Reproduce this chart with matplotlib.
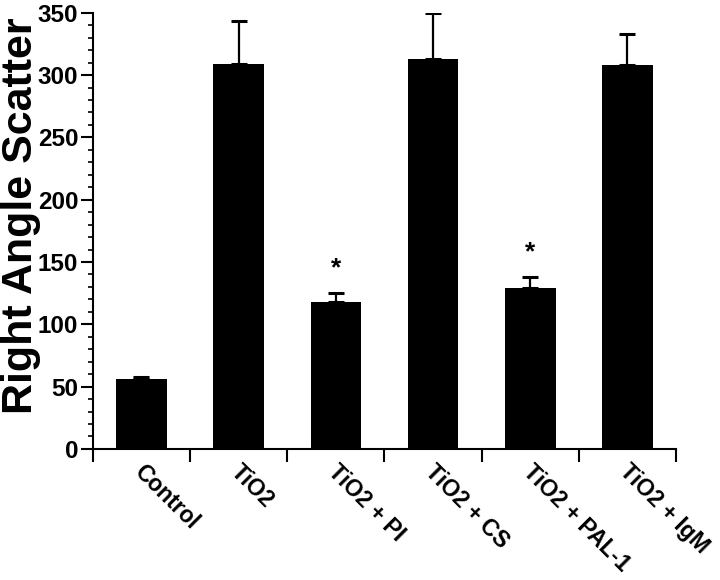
import matplotlib
matplotlib.use("Agg")
import matplotlib.pyplot as plt
from matplotlib.ticker import MultipleLocator
from matplotlib.transforms import ScaledTranslation

categories = ["Control", "TiO2", "TiO2 + PI", "TiO2 + CS", "TiO2 + PAL-1", "TiO2 + IgM"]
means = [56, 309, 118, 313, 129, 308]
errors = [2, 34, 7, 37, 9, 25]
significant = [False, False, True, False, True, False]

plt.rcParams['font.family'] = ['Liberation Sans', 'DejaVu Sans']
plt.rcParams['font.weight'] = 'bold'

fig = plt.figure(figsize=(7.2, 5.8), dpi=100)
ax = fig.add_axes([0.129, 0.226, 0.81, 0.752])

x = list(range(len(categories)))
ax.bar(x, means, width=0.52, color='black', zorder=2)
ax.errorbar(x, means, yerr=[[0]*len(errors), errors], fmt='none', ecolor='black',
            elinewidth=1.6, capsize=6, capthick=2.2, zorder=3)

for xi, m, e, s in zip(x, means, errors, significant):
    if s:
        ax.annotate("*", xy=(xi, m + e), xytext=(0, 9), textcoords='offset points',
                    ha='center', va='bottom', fontsize=19, fontweight='bold')

ax.set_xlim(-0.5, len(categories) - 0.5)
ax.set_ylim(0, 350)
ax.spines['top'].set_visible(False)
ax.spines['right'].set_visible(False)
ax.spines['left'].set_linewidth(1.5)
ax.spines['bottom'].set_linewidth(1.5)

ax.yaxis.set_major_locator(MultipleLocator(50))
ax.yaxis.set_minor_locator(MultipleLocator(10))
ax.tick_params(axis='y', which='major', length=8.6, width=1.5, labelsize=17.5, pad=2)
ax.tick_params(axis='y', which='minor', length=3.6, width=1.2)

# x ticks at category boundaries, labels at centers
ax.set_xticks([i - 0.5 for i in range(len(categories) + 1)])
ax.set_xticklabels([])
ax.tick_params(axis='x', which='major', length=9.4, width=1.5)
ax.set_xticks(x, minor=True)
ax.set_xticklabels(categories, minor=True, rotation=-45, ha='left', va='top',
                   rotation_mode='anchor', fontsize=16.5, fontweight='bold')
ax.tick_params(axis='x', which='minor', length=0, pad=8)
offset = ScaledTranslation(4 / 100, 0, fig.dpi_scale_trans)
for lab in ax.get_xticklabels(minor=True):
    lab.set_transform(lab.get_transform() + offset)

ax.set_ylabel("Right Angle Scatter", fontsize=31, fontweight='bold', va='center')
ax.yaxis.set_label_coords(-0.124, 0.534)

fig.savefig("out.png", dpi=100)
